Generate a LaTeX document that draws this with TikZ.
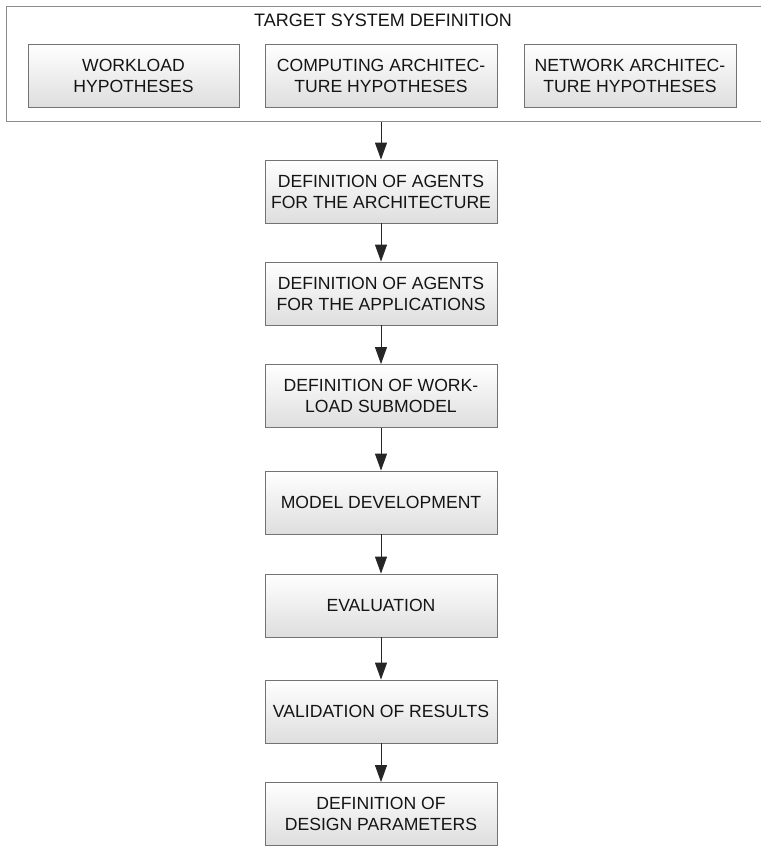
\documentclass[tikz,border=0pt]{standalone}
\usepackage{fontspec}
\setmainfont{Liberation Sans}
\usetikzlibrary{arrows.meta}
\begin{document}
\begin{tikzpicture}[x=1pt,y=-1pt,
  stepbox/.style={draw=black!55, line width=0.8pt, top color=white, bottom color=black!13,
    minimum width=232pt, minimum height=63pt, align=center, inner sep=1pt,
    font=\fontsize{17.6}{21}\selectfont, text=black!92},
  hypbox/.style={stepbox, minimum width=211pt},
  flow/.style={draw=black!85, line width=0.9pt, -{Triangle[length=17pt,width=12pt]}}]
\useasboundingbox (0,0) rectangle (761,847);
% outer frame for the target system
\node[draw=black!45, line width=0.8pt, minimum width=755pt, minimum height=115pt, inner sep=0pt,
  anchor=north west] (frame) at (6,6) {};
\node[font=\fontsize{18}{20}\selectfont, text=black!92] (title) at (383,20) {TARGET SYSTEM DEFINITION};
% hypotheses
\node[hypbox] (work) at (133.5,75.5) {WORKLOAD\\HYPOTHESES};
\node[stepbox] (comp) at (381,75.5) {COMPUTING ARCHITEC-\\TURE HYPOTHESES};
\node[hypbox, minimum width=212pt] (net) at (630,75.5) {NETWORK ARCHITEC-\\TURE HYPOTHESES};
% main flow
\node[stepbox] (s1) at (381,191.5) {DEFINITION OF AGENTS\\FOR THE ARCHITECTURE};
\node[stepbox] (s2) at (381,293.5) {DEFINITION OF AGENTS\\FOR THE APPLICATIONS};
\node[stepbox] (s3) at (381,396) {DEFINITION OF WORK-\\LOAD SUBMODEL};
\node[stepbox] (s4) at (381,502.5) {MODEL DEVELOPMENT};
\node[stepbox] (s5) at (381,605.5) {EVALUATION};
\node[stepbox] (s6) at (381,711.5) {VALIDATION OF RESULTS};
\node[stepbox] (s7) at (381,814) {DEFINITION OF\\DESIGN PARAMETERS};
% connectors
\draw[flow] (frame.south -| s1.north) -- (s1.north);
\draw[flow] (s1) -- (s2);
\draw[flow] (s2) -- (s3);
\draw[flow] (s3) -- (s4);
\draw[flow] (s4) -- (s5);
\draw[flow] (s5) -- (s6);
\draw[flow] (s6) -- (s7);
\end{tikzpicture}
\end{document}
